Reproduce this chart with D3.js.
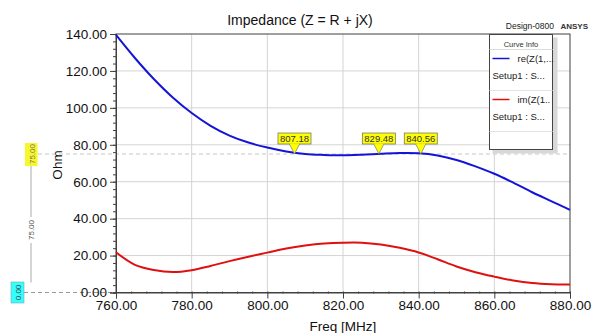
<!DOCTYPE html>
<html>
<head>
<meta charset="utf-8">
<script src="https://cdn.jsdelivr.net/npm/d3@7"></script>
<style>
  body { margin: 0; background: #fff; }
  svg { display: block; font-family: "Liberation Sans", Arial, sans-serif; }
</style>
</head>
<body>
<div id="viz"></div>
<script>
var freq = [760, 765, 770, 775, 780, 785, 790, 795, 800, 805, 810, 815, 820,
            825, 830, 835, 840, 845, 850, 855, 860, 865, 870, 875, 880]
var reZ = [139.5, 127.0, 115.6, 105.6, 97.2, 90.3, 85.0, 81.2, 78.5, 76.4, 75.0, 74.5, 74.3,
           74.6, 75.1, 75.5, 75.4, 74.2, 71.8, 68.3, 64.3, 59.5, 54.3, 49.5, 44.7]
var imZ = [21.8, 15.0, 12.2, 11.1, 12.1, 14.4, 17.0, 19.4, 21.6, 23.8, 25.4, 26.5, 27.0,
           27.0, 26.0, 24.2, 21.7, 18.0, 14.1, 11.0, 8.6, 6.5, 5.1, 4.5, 4.4]
var markerFreqs = [807.18, 829.48, 840.56]
var markerLabels = ['807.18', '829.48', '840.56']
var markerLevel = 75
var xTicks = [760, 780, 800, 820, 840, 860, 880]
var yTicks = [0, 20, 40, 60, 80, 100, 120, 140]
var seriesNames = ['re(Z(1,...', 'im(Z(1..']
var seriesColors = ['#1414d8', '#e01010']

var W = 592, H = 333
var margin = {top: 34, right: 22, bottom: 40.5, left: 116}
var width = W - margin.left - margin.right,
    height = H - margin.top - margin.bottom

var svg = d3.select('#viz').append('svg')
  .attr('width', W)
  .attr('height', H)

var x = d3.scaleLinear().domain([760, 880]).range([margin.left, margin.left + width])
var y = d3.scaleLinear().domain([0, 140]).range([margin.top + height, margin.top])

// grid
svg.append('g').selectAll('line').data(xTicks.slice(1, -1))
  .enter().append('line')
  .attr('x1', d => x(d)).attr('x2', d => x(d))
  .attr('y1', margin.top).attr('y2', margin.top + height)
  .attr('stroke', '#d4d4d4')
svg.append('g').selectAll('line').data(yTicks.slice(1, -1))
  .enter().append('line')
  .attr('x1', margin.left).attr('x2', margin.left + width)
  .attr('y1', d => y(d)).attr('y2', d => y(d))
  .attr('stroke', '#d4d4d4')

// frame
svg.append('rect')
  .attr('x', margin.left).attr('y', margin.top)
  .attr('width', width).attr('height', height)
  .attr('fill', 'none').attr('stroke', '#404040').attr('stroke-width', 1)

// horizontal marker level lines
svg.append('line')
  .attr('x1', 38).attr('x2', margin.left + width)
  .attr('y1', y(markerLevel)).attr('y2', y(markerLevel))
  .attr('stroke', '#c8c8c8').attr('stroke-dasharray', '4,3')
svg.append('line')
  .attr('x1', 24).attr('x2', margin.left)
  .attr('y1', y(0)).attr('y2', y(0))
  .attr('stroke', '#999').attr('stroke-dasharray', '4,3')

// axes
var yAxis = d3.axisLeft(y).tickValues(yTicks).tickFormat(d3.format('.2f')).tickSize(6).tickPadding(3)
var yMinor = d3.axisLeft(y).tickValues(d3.range(0, 141, 4)).tickFormat('').tickSize(3)
var xAxis = d3.axisBottom(x).tickValues(xTicks).tickFormat(d3.format('.2f')).tickSize(6).tickPadding(2)
var xMinor = d3.axisBottom(x).tickValues(d3.range(760, 881, 4)).tickFormat('').tickSize(2)

function styleAxis(g) {
  g.select('.domain').attr('stroke', '#404040')
  g.selectAll('line').attr('stroke', '#404040')
  g.selectAll('text').attr('fill', '#111').style('font-size', '13.5px')
}
svg.append('g').attr('transform', 'translate(' + margin.left + ',0)').call(yMinor).call(styleAxis)
svg.append('g').attr('transform', 'translate(' + margin.left + ',0)').call(yAxis).call(styleAxis)
svg.append('g').attr('transform', 'translate(0,' + (margin.top + height - 1) + ')').call(xMinor).call(styleAxis)
  .select('.domain').remove()
svg.append('g').attr('transform', 'translate(0,' + (margin.top + height) + ')').call(xAxis).call(styleAxis)

// curves
var line = d3.line().curve(d3.curveCatmullRom.alpha(0.5))
svg.append('path')
  .datum(freq.map((f, i) => [x(f), y(reZ[i])]))
  .attr('d', line).attr('fill', 'none')
  .attr('stroke', seriesColors[0]).attr('stroke-width', 2)
svg.append('path')
  .datum(freq.map((f, i) => [x(f), y(imZ[i])]))
  .attr('d', line).attr('fill', 'none')
  .attr('stroke', seriesColors[1]).attr('stroke-width', 2)

// markers
var mk = svg.append('g').selectAll('g').data(markerFreqs)
  .enter().append('g')
  .attr('transform', d => 'translate(' + x(d) + ',' + y(markerLevel) + ')')
mk.append('path')
  .attr('d', 'M0,0 L-5,-10 L5,-10 Z')
  .attr('fill', '#ffff00').attr('stroke', '#777').attr('stroke-width', 0.7)
mk.append('rect')
  .attr('x', -16.5).attr('y', -21).attr('width', 33).attr('height', 11)
  .attr('fill', '#ffff00').attr('stroke', '#777').attr('stroke-width', 0.8)
mk.append('rect')
  .attr('x', -4.5).attr('y', -10.6).attr('width', 9).attr('height', 1.5)
  .attr('fill', '#ffff00')
mk.append('text')
  .attr('y', -12).attr('text-anchor', 'middle')
  .style('font-size', '9.5px').attr('fill', '#333')
  .text((d, i) => markerLabels[i])

// left marker scale
svg.append('line').attr('x1', 31).attr('x2', 31).attr('y1', y(markerLevel) + 12).attr('y2', 217)
  .attr('stroke', '#aaa')
svg.append('line').attr('x1', 31).attr('x2', 31).attr('y1', 243).attr('y2', y(0) - 10)
  .attr('stroke', '#aaa')
svg.append('text')
  .attr('transform', 'translate(34,230) rotate(-90)')
  .attr('text-anchor', 'middle').style('font-size', '8px').attr('fill', '#555')
  .text(d3.format('.2f')(markerLevel))
svg.append('rect').attr('x', 25).attr('y', y(markerLevel) - 11).attr('width', 12.5).attr('height', 23)
  .attr('fill', '#f7f72a')
svg.append('text')
  .attr('transform', 'translate(34.5,' + y(markerLevel) + ') rotate(-90)')
  .attr('text-anchor', 'middle').style('font-size', '8px').attr('fill', '#777')
  .text(d3.format('.2f')(markerLevel))
svg.append('rect').attr('x', 11).attr('y', y(0) - 10.5).attr('width', 13).attr('height', 21)
  .attr('fill', '#33ffff').attr('stroke', '#7aa').attr('stroke-width', 0.6)
svg.append('text')
  .attr('transform', 'translate(20.5,' + y(0) + ') rotate(-90)')
  .attr('text-anchor', 'middle').style('font-size', '8px').attr('fill', '#444')
  .text(d3.format('.2f')(0))

// labels
svg.append('text')
  .attr('transform', 'translate(62,165) rotate(-90)')
  .attr('text-anchor', 'middle').style('font-size', '13.5px').attr('fill', '#111')
  .text('Ohm')
svg.append('text')
  .attr('x', 343).attr('y', 331).attr('text-anchor', 'middle')
  .style('font-size', '13.5px').attr('fill', '#111')
  .text('Freq [MHz]')
svg.append('text')
  .attr('x', 300).attr('y', 25).attr('text-anchor', 'middle')
  .style('font-size', '14px').attr('fill', '#111')
  .text('Impedance (Z = R + jX)')
svg.append('text')
  .attr('x', 554).attr('y', 29).attr('text-anchor', 'end')
  .style('font-size', '8.5px').attr('fill', '#222')
  .text('Design-0800')
svg.append('text')
  .attr('x', 588).attr('y', 28.5).attr('text-anchor', 'end')
  .style('font-size', '8px').style('font-weight', 'bold').attr('fill', '#333')
  .text('ANSYS')

// legend
var lg = svg.append('g').attr('transform', 'translate(489.5,34.5)')
lg.append('rect').attr('x', 63).attr('y', 3).attr('width', 5).attr('height', 115).attr('fill', '#d8d8d8')
lg.append('rect').attr('x', 3).attr('y', 115).attr('width', 65).attr('height', 4).attr('fill', '#d8d8d8')
lg.append('rect').attr('width', 63).attr('height', 115)
  .attr('fill', '#fff').attr('stroke', '#444').attr('stroke-width', 1)
lg.append('text').attr('x', 31.5).attr('y', 12).attr('text-anchor', 'middle')
  .style('font-size', '7.5px').attr('fill', '#333').text('Curve Info')
lg.append('line').attr('x1', 0).attr('x2', 63).attr('y1', 15).attr('y2', 15).attr('stroke', '#ddd')
lg.append('line').attr('x1', 0).attr('x2', 63).attr('y1', 56).attr('y2', 56).attr('stroke', '#e4e4e4')
lg.append('line').attr('x1', 0).attr('x2', 63).attr('y1', 97).attr('y2', 97).attr('stroke', '#e4e4e4')
var entries = lg.selectAll('g.entry').data(seriesNames)
  .enter().append('g').attr('class', 'entry')
  .attr('transform', (d, i) => 'translate(0,' + (24 + i * 41) + ')')
entries.append('line').attr('x1', 3).attr('x2', 20).attr('y1', 0).attr('y2', 0)
  .attr('stroke', (d, i) => seriesColors[i]).attr('stroke-width', 1.5)
entries.append('text').attr('x', 28).attr('y', 3.5)
  .style('font-size', '9.5px').attr('fill', '#222').text(d => d)
entries.append('text').attr('x', 3).attr('y', 20)
  .style('font-size', '9.5px').attr('fill', '#222').text('Setup1 : S...')
</script>
</body>
</html>
